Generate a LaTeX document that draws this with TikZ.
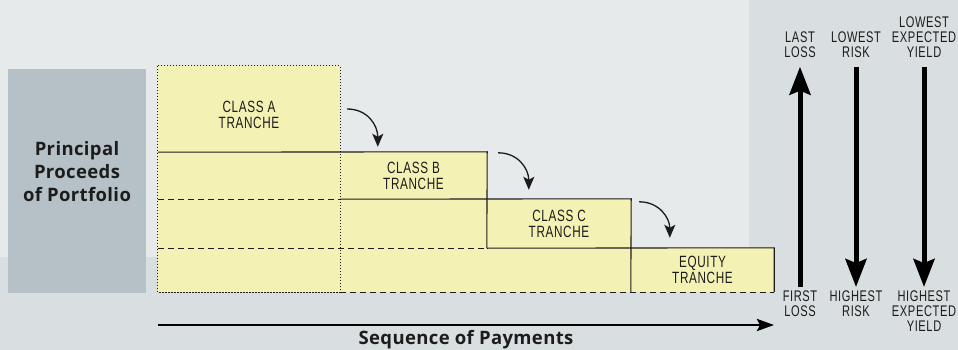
\documentclass[tikz,border=0pt]{standalone}
\usepackage{fontspec}
\usepackage{tikz}
\usetikzlibrary{arrows.meta,positioning,calc}
\newfontfamily\trfont[FakeStretch=0.72,LetterSpace=4]{Liberation Sans}
\newfontfamily\headfont[LetterSpace=2]{Open Sans}
\definecolor{bgpanel}{RGB}{217,222,225}
\definecolor{bgplain}{RGB}{230,234,235}
\definecolor{procgray}{RGB}{182,193,199}
\definecolor{trancheyellow}{RGB}{243,242,180}
\definecolor{inkdark}{RGB}{28,28,28}
\tikzset{
  procbox/.style={fill=procgray, minimum width=138pt, minimum height=224pt, inner sep=0pt},
  headtext/.style={font=\headfont\bfseries\fontsize{18.5}{23}\selectfont, align=center,
    text=inkdark, inner sep=0pt},
  trcell/.style={inner sep=0pt},
  trtext/.style={font=\trfont\fontsize{16.3}{16}\selectfont, align=center, text=inkdark, inner sep=0pt},
  risktext/.style={font=\trfont\fontsize{15.4}{15}\selectfont, align=center, text=inkdark, inner sep=0pt},
  rowline/.style={line width=1.1pt, inkdark},
  dashrow/.style={line width=1.1pt, inkdark, dash pattern=on 6pt off 4pt},
  dotrow/.style={line width=1.1pt, inkdark, dash pattern=on 1.2pt off 1.8pt},
  flowarr/.style={-{Stealth[length=13pt,width=11pt,inset=3pt]}, line width=1.3pt, inkdark},
  riskarr/.style={-{Stealth[length=28pt,width=21pt,inset=4pt]}, line width=5pt, black},
  seqarr/.style={-{Stealth[length=17pt,width=12pt,inset=3pt]}, line width=2.8pt, black}
}
\begin{document}
\begin{tikzpicture}[x=1pt,y=-1pt]
        \useasboundingbox (0,0) rectangle (958,350);
        % backdrop
        \fill[bgpanel] (0,0) rectangle (958,350);
        \fill[bgplain] (0,0) rectangle (749,257);
        % proceeds block
        \node[procbox] (proc) at (77,181) {};
        \node[headtext] (proctxt) at ([yshift=9.5pt]proc.center) {Principal\\Proceeds\\of Portfolio};
        % tranche cells
        \path node[trcell,minimum width=182pt,minimum height=86pt] (trA) at (249,109) {}
              node[trcell,minimum width=147pt,minimum height=47pt] (trB) at (413.5,175.5) {}
              node[trcell,minimum width=144pt,minimum height=49pt] (trC) at (559,223.5) {}
              node[trcell,minimum width=143pt,minimum height=44pt] (trE) at (702.5,270) {};
        \fill[trancheyellow] (trA.north west) -- (trA.north east) -- (trA.south east) -- (trB.north east)
          -- (trB.south east) -- (trC.north east) -- (trC.south east) -- (trE.north east)
          -- (trE.south east) -- (trA.west |- trE.south) -- cycle;
        \draw[dotrow] (trA.north west) rectangle (trA.east |- trE.south);
        \draw[dashrow] (trA.west |- trB.south) -- (trB.south west);
        \draw[dashrow] (trA.west |- trC.south) -- (trC.south west);
        \draw[dashrow] (trB.south west |- trE.south) -- (trE.south east);
        \draw[rowline] (trA.south west) -- (trB.north east) -- (trC.south west);
        \draw[rowline] (trB.south west) -- (trC.north east) -- (trE.south west);
        \draw[rowline] (trC.south west) -- (trE.north east) -- (trE.south east);
        \node[trtext] (lblA) at ([yshift=-6pt]trA.center) {CLASS A\\TRANCHE};
        \node[trtext] (lblB) at (trB.center) {CLASS B\\TRANCHE};
        \node[trtext] (lblC) at (trC.center) {CLASS C\\TRANCHE};
        \node[trtext] (lblE) at (trE.center) {EQUITY\\TRANCHE};
        % spill-over arrows
        \draw[flowarr] ([xshift=7pt]trA.east) .. controls +(20pt,0pt) and +(0pt,22pt) .. ([xshift=38pt,yshift=5pt]trB.north west);
        \draw[flowarr] ([xshift=11pt,yshift=-1pt]trB.north east) .. controls +(20pt,0pt) and +(0pt,21pt) .. ([xshift=42pt,yshift=9pt]trC.north west);
        \draw[flowarr] ([xshift=8pt,yshift=-3pt]trC.north east) .. controls +(20pt,0pt) and +(0pt,20pt) .. ([xshift=39pt,yshift=10pt]trE.north west);
        % risk scale
        \node[risktext,anchor=south] (lastloss) at (800,58) {LAST\\LOSS};
        \node[risktext,anchor=south] (lowrisk) at (856,58) {LOWEST\\RISK};
        \node[risktext,anchor=south] (lowyield) at (924,58) {LOWEST\\EXPECTED\\YIELD};
        \node[risktext,anchor=north] (firstloss) at (800,290.7) {FIRST\\LOSS};
        \node[risktext,anchor=north] (highrisk) at (856,290.7) {HIGHEST\\RISK};
        \node[risktext,anchor=north] (highyield) at (924,290.7) {HIGHEST\\EXPECTED\\YIELD};
        \draw[riskarr] ([yshift=3.7pt]firstloss.north) -- ([yshift=-8.7pt]lastloss.south);
        \draw[riskarr] ([yshift=-8.7pt]lowrisk.south) -- ([yshift=3.7pt]highrisk.north);
        \draw[riskarr] ([yshift=-8.7pt]lowyield.south) -- ([yshift=3.7pt]highyield.north);
        % payment order
        \coordinate (seqstart) at (158,325);
        \coordinate (seqend) at (774,325);
        \draw[seqarr] (seqstart) -- (seqend);
        \node[headtext,anchor=base] (seqlbl) at (466,344.5) {Sequence of Payments};
      \end{tikzpicture}
\end{document}
